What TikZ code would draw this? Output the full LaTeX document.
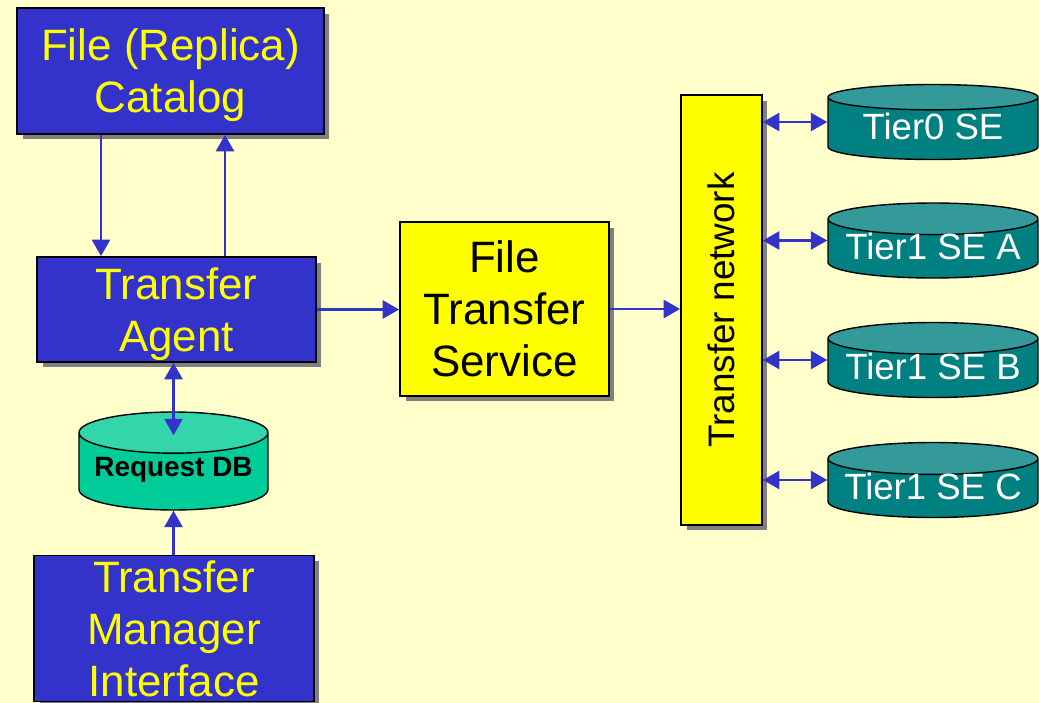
\documentclass[tikz,border=0pt]{standalone}
\usepackage{fontspec}
\setmainfont{Liberation Sans}
\usetikzlibrary{arrows.meta,shapes.geometric,shadows}
\definecolor{slidebg}{RGB}{255,255,204}
\definecolor{boxblue}{RGB}{51,51,204}
\definecolor{boxyellow}{RGB}{255,255,0}
\definecolor{dbgreen}{RGB}{0,204,153}
\definecolor{dbgreentop}{RGB}{51,214,170}
\definecolor{seteal}{RGB}{0,128,128}
\definecolor{setealtop}{RGB}{51,153,153}
\definecolor{shadowgray}{RGB}{128,128,128}
\tikzset{
  bigtext/.style={font=\fontsize{25}{29.6}\selectfont,align=center,text depth=0pt},
  boxed/.style={draw=black,line width=1pt,inner sep=0pt,
    drop shadow={shadow xshift=0.11cm,shadow yshift=-0.11cm,fill=shadowgray,opacity=1}},
  bluebox/.style={boxed,bigtext,fill=boxblue,text=boxyellow},
  yellowbox/.style={boxed,bigtext,fill=boxyellow,text=black},
  store/.style={cylinder,shape border rotate=90,draw=black,line width=0.8pt,
    cylinder uses custom fill,inner sep=0pt,text depth=0pt,anchor=shape center},
  dbstore/.style={store,aspect=0.26,cylinder body fill=dbgreen,cylinder end fill=dbgreentop,
    font=\fontsize{15.9}{18}\selectfont\bfseries,text=black,text height=0.2cm},
  sestore/.style={store,aspect=0.18,cylinder body fill=seteal,cylinder end fill=setealtop,
    font=\fontsize{20.8}{24}\selectfont,text=white,text height=0.44cm},
  link/.style={->,>={Triangle[length=0.33cm,width=0.36cm]},draw=boxblue,line width=1.6pt},
  duplex/.style={link,<->}
}

\begin{document}
\begin{tikzpicture}[x=0.02cm,y=-0.02cm]
  \path[use as bounding box,fill=slidebg] (0,0) rectangle (1039,703);
  \clip (0,0) rectangle (1039,703);

  % left column
  \node[bluebox,minimum width=6.14cm,minimum height=2.52cm] (cat) at (170.5,71)
    {File (Replica)\\Catalog};
  \node[bluebox,minimum width=5.58cm,minimum height=2.1cm] (agent) at (176.5,309.5)
    {Transfer\\Agent};
  \node[dbstore,minimum width=3.78cm,minimum height=1.96cm] (db) at (173.5,461)
    {Request DB};
  \node[bluebox,minimum width=5.6cm,minimum height=2.92cm] (tmi) at (174,628.5)
    {Transfer\\Manager\\Interface};

  % middle
  \node[yellowbox,minimum width=4.18cm,minimum height=3.48cm] (fts) at (504.5,309)
    {File\\Transfer\\Service};
  \node[yellowbox,minimum width=1.62cm,minimum height=8.6cm] (net) at (721.5,310)
    {\fontsize{21}{25}\selectfont\rotatebox{90}{Transfer network}};

  \coordinate (downx) at (101,0);
  \coordinate (upx) at (225,0);
  \coordinate (dbtop) at ([yshift=-0.48cm]db.north);

  \draw[link] (cat.south -| downx) -- (agent.north -| downx);
  \draw[link] (agent.north -| upx) -- (cat.south -| upx);
  \draw[duplex] (agent.south -| dbtop) -- (dbtop);
  \draw[link] (tmi.north -| dbtop) -- (db.south -| dbtop);
  \draw[link] (agent.east) -- (agent.east -| fts.west);
  \draw[link] (fts.east) -- (fts.east -| net.west);

  % storage elements
  \foreach \se/\ypos/\txt in {t0/122/Tier0 SE, t1a/240.5/Tier1 SE A,
      t1b/360/Tier1 SE B, t1c/480/Tier1 SE C} {
    \node[sestore,minimum width=4.2cm,minimum height=1.5cm] (\se) at (933,\ypos) {\txt};
    \draw[duplex] (\se.shape center -| net.east) -- (\se.shape center -| \se.west);
  }
\end{tikzpicture}
\end{document}
